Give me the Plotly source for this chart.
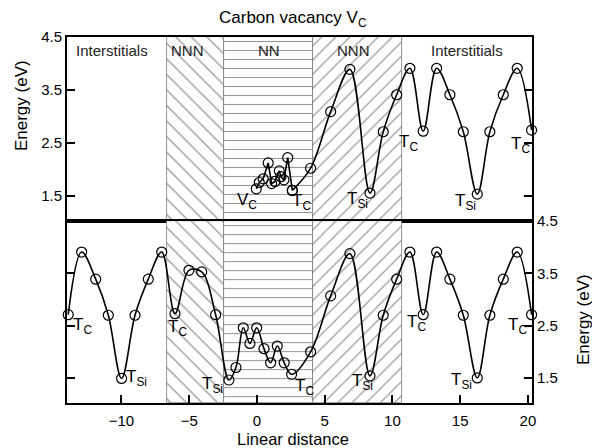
import plotly.graph_objects as go
from plotly.subplots import make_subplots

# ---------------- data ----------------
# top panel: path starting at the vacancy V_C
top_x = [-0.05, 0.17, 0.46, 0.83, 1.08, 1.33, 1.65, 1.77, 1.99, 2.27, 2.61,
         3.96, 5.44, 6.86, 8.34, 9.32, 10.31, 11.29, 12.27, 13.26, 14.24,
         15.23, 16.26, 17.19, 18.18, 19.21, 20.27]
top_e = [1.63, 1.75, 1.82, 2.12, 1.73, 1.77, 1.97, 1.86, 1.80, 2.22, 1.60,
         2.02, 3.09, 3.89, 1.55, 2.71, 3.41, 3.91, 2.72, 3.91, 3.41,
         2.71, 1.53, 2.71, 3.41, 3.91, 2.74]
top_jagged_end = 10  # index where the jagged NN part ends

# bottom panel
bot_x = [-13.93, -12.94, -11.90, -10.97, -9.99, -9.00, -8.02, -7.03, -6.05,
         -5.02, -4.08, -3.05, -2.07, -1.55, -1.01, -0.52, -0.02, 0.52, 1.01,
         1.50, 2.01, 2.56, 3.96, 5.44, 6.86, 8.34, 9.32, 10.31, 11.29, 12.27,
         13.26, 14.24, 15.23, 16.26, 17.19, 18.18, 19.21, 20.27]
bot_e = [2.71, 3.91, 3.39, 2.70, 1.49, 2.70, 3.39, 3.91, 2.73,
         3.56, 3.53, 2.71, 1.46, 1.70, 2.46, 2.16, 2.46, 2.06, 1.79,
         2.11, 1.79, 1.57, 2.00, 3.07, 3.88, 1.54, 2.70, 3.39, 3.91, 2.71,
         3.91, 3.39, 2.70, 1.50, 2.70, 3.39, 3.91, 2.71]

# shaded regions (NNN, NN, NNN)
region_left = [-6.64, -2.44, 4.13]
region_right = [-2.44, 4.13, 10.70]
region_pattern = ["\\", "-", "/"]
region_hatch_size = [11, 9, 10]

# region names (top panel)
region_names = ["Interstitials", "NNN", "NN", "NNN", "Interstitials"]
region_name_x = [-10.70, -5.09, 0.89, 7.16, 15.5]

# site labels
top_lab = ["V<sub>C</sub>", "T<sub>C</sub>", "T<sub>Si</sub>", "T<sub>C</sub>",
           "T<sub>Si</sub>", "T<sub>C</sub>"]
top_lab_x = [-0.74, 3.32, 7.45, 11.22, 15.42, 19.48]
top_lab_e = [1.40, 1.38, 1.42, 2.50, 1.38, 2.45]

bot_lab = ["T<sub>C</sub>", "T<sub>Si</sub>", "T<sub>C</sub>", "T<sub>Si</sub>",
           "T<sub>C</sub>", "T<sub>Si</sub>", "T<sub>C</sub>", "T<sub>Si</sub>",
           "T<sub>C</sub>"]
bot_lab_x = [-12.84, -8.86, -5.83, -3.25, 3.54, 7.82, 11.81, 15.13, 19.26]
bot_lab_e = [2.50, 1.50, 2.46, 1.36, 1.32, 1.42, 2.55, 1.45, 2.50]

x_ticks = [-10, -5, 0, 5, 10, 15, 20]
y_ticks = [1.5, 2.5, 3.5, 4.5]
x_range = [-14.02, 20.3]
y_range = [1.02, 4.502]

FONT = "Liberation Sans, Arial, sans-serif"

fig = make_subplots(rows=2, cols=1, shared_xaxes=False, vertical_spacing=0)

# hatched regions
for row in (1, 2):
    for l, r, p, s in zip(region_left, region_right, region_pattern, region_hatch_size):
        fig.add_trace(go.Bar(
            x=[(l + r) / 2], y=[y_range[1] - y_range[0]], base=[y_range[0]],
            width=[r - l], orientation="v", showlegend=False, hoverinfo="skip",
            marker=dict(color="white",
                        line=dict(color="#777", width=0.8),
                        pattern=dict(shape=p, size=s, solidity=0.12,
                                     fgcolor="#333", bgcolor="white")),
        ), row=row, col=1)

line_style = dict(color="black", width=1.6)
marker_style = dict(symbol="circle-open", size=10, color="black",
                    line=dict(width=1.2, color="black"))

# top curve: jagged part then smooth part
fig.add_trace(go.Scatter(x=top_x[:top_jagged_end + 1], y=top_e[:top_jagged_end + 1],
                         mode="lines+markers", line=line_style, marker=marker_style,
                         cliponaxis=False, showlegend=False), row=1, col=1)
fig.add_trace(go.Scatter(x=top_x[top_jagged_end:], y=top_e[top_jagged_end:],
                         mode="lines+markers",
                         line=dict(color="black", width=1.6, shape="spline", smoothing=1),
                         marker=marker_style, cliponaxis=False, showlegend=False),
              row=1, col=1)
# bottom curve
fig.add_trace(go.Scatter(x=bot_x, y=bot_e, mode="lines+markers",
                         line=dict(color="black", width=1.6, shape="spline", smoothing=1),
                         marker=marker_style, cliponaxis=False, showlegend=False),
              row=2, col=1)

axis_common = dict(showline=True, linecolor="black", linewidth=2, showgrid=False,
                   zeroline=False, ticks="inside", ticklen=8, tickwidth=1.5,
                   tickcolor="black", tickfont=dict(family=FONT, size=15, color="black"))

fig.update_layout(
    width=592, height=448,
    margin=dict(l=67, r=60, t=37, b=45),
    plot_bgcolor="white", paper_bgcolor="white",
    barmode="overlay", bargap=0,
    font=dict(family=FONT, color="black"),
    xaxis=dict(**{**axis_common, "ticks": ""}, range=x_range, showticklabels=False,
               mirror=True, anchor="y", tickvals=x_ticks),
    yaxis=dict(**axis_common, range=y_range, domain=[0.497, 1], tickvals=y_ticks,
               side="left", mirror="ticks", anchor="x"),
    xaxis2=dict(**axis_common, range=x_range, tickvals=x_ticks, mirror=True,
                anchor="y2", ticklabelstandoff=3),
    yaxis2=dict(**axis_common, range=y_range, domain=[0, 0.497], tickvals=y_ticks,
                side="right", mirror="ticks", anchor="x2"),
)

ann = []
for t, x in zip(region_names, region_name_x):
    ann.append(dict(text=t, x=x, y=4.25, xref="x", yref="y", showarrow=False,
                    font=dict(size=15, family=FONT, color="#222")))
for t, x, y in zip(top_lab, top_lab_x, top_lab_e):
    ann.append(dict(text=t, x=x, y=y, xref="x", yref="y", showarrow=False,
                    font=dict(size=17, family=FONT, color="black")))
for t, x, y in zip(bot_lab, bot_lab_x, bot_lab_e):
    ann.append(dict(text=t, x=x, y=y, xref="x2", yref="y2", showarrow=False,
                    font=dict(size=17, family=FONT, color="black")))

paper_ann = dict(xref="paper", yref="paper", showarrow=False,
                 xanchor="center", yanchor="middle")
ann += [
    dict(text="Carbon vacancy V<sub>C</sub>", x=0.486, y=1.05,
         font=dict(size=17, family=FONT), **paper_ann),
    dict(text="Linear distance", x=0.485, y=-0.0985,
         font=dict(size=16.5, family=FONT), **paper_ann),
    dict(text="Energy (eV)", x=-0.099, y=0.814, textangle=-90,
         font=dict(size=17, family=FONT), **paper_ann),
    dict(text="Energy (eV)", x=1.112, y=0.227, textangle=-90,
         font=dict(size=17, family=FONT), **paper_ann),
]
fig.update_layout(annotations=ann)

fig.write_html("out.html",
               config={"displayModeBar": False},
               post_script="document.body.style.margin='0';"
                           "document.body.style.overflow='hidden';")
